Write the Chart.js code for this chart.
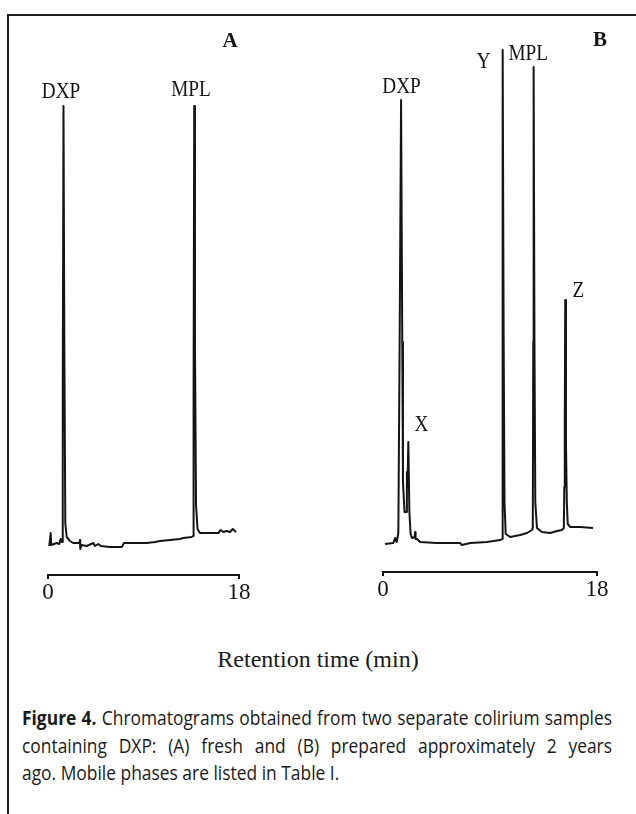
<!DOCTYPE html>
<html>
<head>
<meta charset="utf-8">
<script src="https://cdn.jsdelivr.net/npm/chart.js@4.4.1/dist/chart.umd.min.js"></script>
<style>
  body { margin: 0; background: #fff; }
  #page { position: relative; width: 636px; height: 814px; overflow: hidden; background: #fff; }
  #frame { position: absolute; left: 7px; top: 14px; width: 700px; height: 900px; border-left: 2px solid #222; border-top: 2px solid #222; }
  .panel { position: absolute; top: 0; }
  #xtitle { position: absolute; left: 0; width: 636px; top: 646px; line-height: 30px; text-align: center;
            font: 24px "Liberation Serif", serif; color: #1a1a1a; }
  #caption { position: absolute; left: 22px; top: 704px; width: 1200px; font-family: "Open Sans", sans-serif; font-size: 20px;
             line-height: 27.5px; color: #1a1a1a; }
  #caption .ln { transform-origin: 0 0; white-space: nowrap; }
  #caption .just { text-align: justify; text-align-last: justify; }
</style>
</head>
<body>
<div id="page">
  <div id="frame"></div>
  <div class="panel" style="left:0px"><canvas id="chartA" width="318" height="640"></canvas></div>
  <div class="panel" style="left:318px"><canvas id="chartB" width="318" height="640"></canvas></div>
  <div id="xtitle">Retention time (min)</div>
  <div id="caption">
    <div class="ln" id="cap1"><span id="cap1txt"><b>Figure 4.</b> Chromatograms obtained from two separate colirium samples</span></div>
    <div class="ln" id="cap2">containing DXP: (A) fresh and (B) prepared approximately 2 years</div>
    <div class="ln" id="cap3">ago. Mobile phases are listed in Table I.</div>
  </div>
</div>
<script>

// retention time (min) and detector signal
var timeA = [0.12, 0.25, 0.31, 0.82, 1.06, 1.19, 1.32, 1.37, 1.41, 1.46,
             1.54, 1.63, 1.76, 2.07, 2.38, 2.95, 3.02, 3.04, 3.18, 3.65,
             4.27, 4.43, 4.74, 4.97, 5.84, 6.95, 7.16, 9.30, 10.08, 10.56,
             11.50, 12.44, 12.75, 13.54, 13.67, 13.72, 13.78, 13.85, 13.95, 14.09,
             14.32, 16.05, 16.28, 16.52, 16.84, 17.15, 17.41, 17.72];
var signalA = [-1, 12, 0, 2, 1, 6, 3, 5, 150, 439,
               200, 22, 8, 4, 2, 2, 5, -4, 0, -1,
               2, -1, 1, -1, -2, -2, 2, 2, 3, 4,
               5, 6, 7, 8, 9, 150, 439, 200, 40, 16,
               12, 12, 15, 13, 14, 13, 16, 13];

var timeB = [0.17, 0.87, 1.01, 1.15, 1.29, 1.40, 1.52, 1.62, 1.68, 1.81,
             1.94, 2.01, 2.06, 2.13, 2.22, 2.32, 2.44, 2.66, 2.70, 2.74,
             2.86, 3.12, 4.52, 6.49, 6.63, 7.33, 8.74, 9.86, 10.01, 10.05,
             10.08, 10.15, 10.22, 10.32, 10.70, 11.54, 12.11, 12.53, 12.60, 12.64,
             12.67, 12.74, 12.81, 12.95, 13.37, 14.07, 14.63, 15.05, 15.21, 15.25,
             15.29, 15.33, 15.39, 15.46, 15.54, 15.75, 16.60, 17.67];
var signalB = [-2, -1, 4, 0, 9, 200, 442, 200, 60, 30,
               30, 70, 55, 100, 30, 8, 4, 5, 10, 3,
               3, 0, -1, -1, -3, -1, 0, 2, 3, 200,
               492, 200, 40, 8, 5, 7, 9, 12, 14, 200,
               475, 200, 40, 14, 10, 9, 11, 12, 14, 55,
               120, 242, 100, 40, 18, 15, 15, 14];

// peak names and where they sit (time, signal)
var peaksA = ['DXP', 'MPL'];
var peakTimeA = [1.23, 13.48];
var peakSignalA = [453, 455];

var peaksB = ['DXP', 'X', 'Y', 'MPL', 'Z'];
var peakTimeB = [1.56, 3.24, 8.47, 12.21, 16.43];
var peakSignalB = [455, 117, 480, 488, 251];

var tickValues = [0, 18];

function makePoints(times, signal){
	var pts = [];
	for (var i = 0; i < times.length; i++){
		pts.push({ x: times[i], y: signal[i] });
	}
	return pts;
}

var peakLabelPlugin = {
	id: 'peakLabels',
	afterDatasetsDraw: function(chart, args, opts){
		var ctx = chart.ctx;
		var xs = chart.scales.x;
		var ys = chart.scales.y;
		ctx.save();
		ctx.fillStyle = '#161616';
		ctx.textAlign = 'center';
		ctx.textBaseline = 'middle';
		for (var i = 0; i < opts.names.length; i++){
			ctx.save();
			ctx.translate(xs.getPixelForValue(opts.times[i]), ys.getPixelForValue(opts.signals[i]));
			ctx.scale(0.8, 1);
			ctx.font = '24px "Liberation Serif"';
			ctx.fillText(opts.names[i], 0, 0);
			ctx.restore();
		}
		ctx.font = 'bold 21px "Liberation Serif"';
		ctx.fillText(opts.panel, opts.panelX, opts.panelY);
		ctx.restore();
	}
};

function init_chromatogram(canvasId, times, signal, names, nameTimes, nameSignals, panel, panelX, panelY, pad){

	if( typeof (Chart) === 'undefined'){ return; }

	var chart_settings = {
		type: 'line',
		data: {
			datasets: [{
				data: makePoints(times, signal),
				borderColor: '#141414',
				borderWidth: 2,
				borderJoinStyle: 'round',
				pointRadius: 0,
				tension: 0,
				fill: false
			}]
		},
		options: {
			responsive: false,
			animation: false,
			layout: { padding: pad },
			plugins: {
				legend: { display: false },
				tooltip: { enabled: false },
				peakLabels: {
					names: names, times: nameTimes, signals: nameSignals,
					panel: panel, panelX: panelX, panelY: panelY
				}
			},
			scales: {
				x: {
					type: 'linear',
					min: 0,
					max: 18,
					afterBuildTicks: function(scale){
						scale.ticks = tickValues.map(function(v){ return { value: v }; });
					},
					afterFit: function(scale){ scale.height = 40; },
					grid: { display: true, drawOnChartArea: false, drawTicks: true, tickLength: 4, color: '#141414', lineWidth: 2 },
					border: { display: true, color: '#141414', width: 2 },
					ticks: {
						font: { family: "'Liberation Serif', serif", size: 23 },
						color: '#141414',
						padding: 0,
						maxRotation: 0,
						autoSkip: false
					}
				},
				y: { type: 'linear', display: false, min: -30, max: 500 }
			}
		},
		plugins: [peakLabelPlugin]
	};

	new Chart(document.getElementById(canvasId), chart_settings);
}

init_chromatogram('chartA', timeA, signalA, peaksA, peakTimeA, peakSignalA, 'A', 230, 42,
	{ left: 48, right: 79, top: 45, bottom: 25 });
init_chromatogram('chartB', timeB, signalB, peaksB, peakTimeB, peakSignalB, 'B', 282, 41,
	{ left: 65, right: 39, top: 42, bottom: 28 });

// caption: squeeze the sans text so the first line fills the column
var natural = document.getElementById('cap1txt').getBoundingClientRect().width;
var k = 584 / natural;
['cap1', 'cap2', 'cap3'].forEach(function(id){
	var el = document.getElementById(id);
	el.style.transform = 'scaleX(' + k + ')';
	if (id !== 'cap3'){
		el.className = 'ln just';
		el.style.width = (590 / k) + 'px';
		el.style.whiteSpace = 'normal';
	}
});

</script>
</body>
</html>
